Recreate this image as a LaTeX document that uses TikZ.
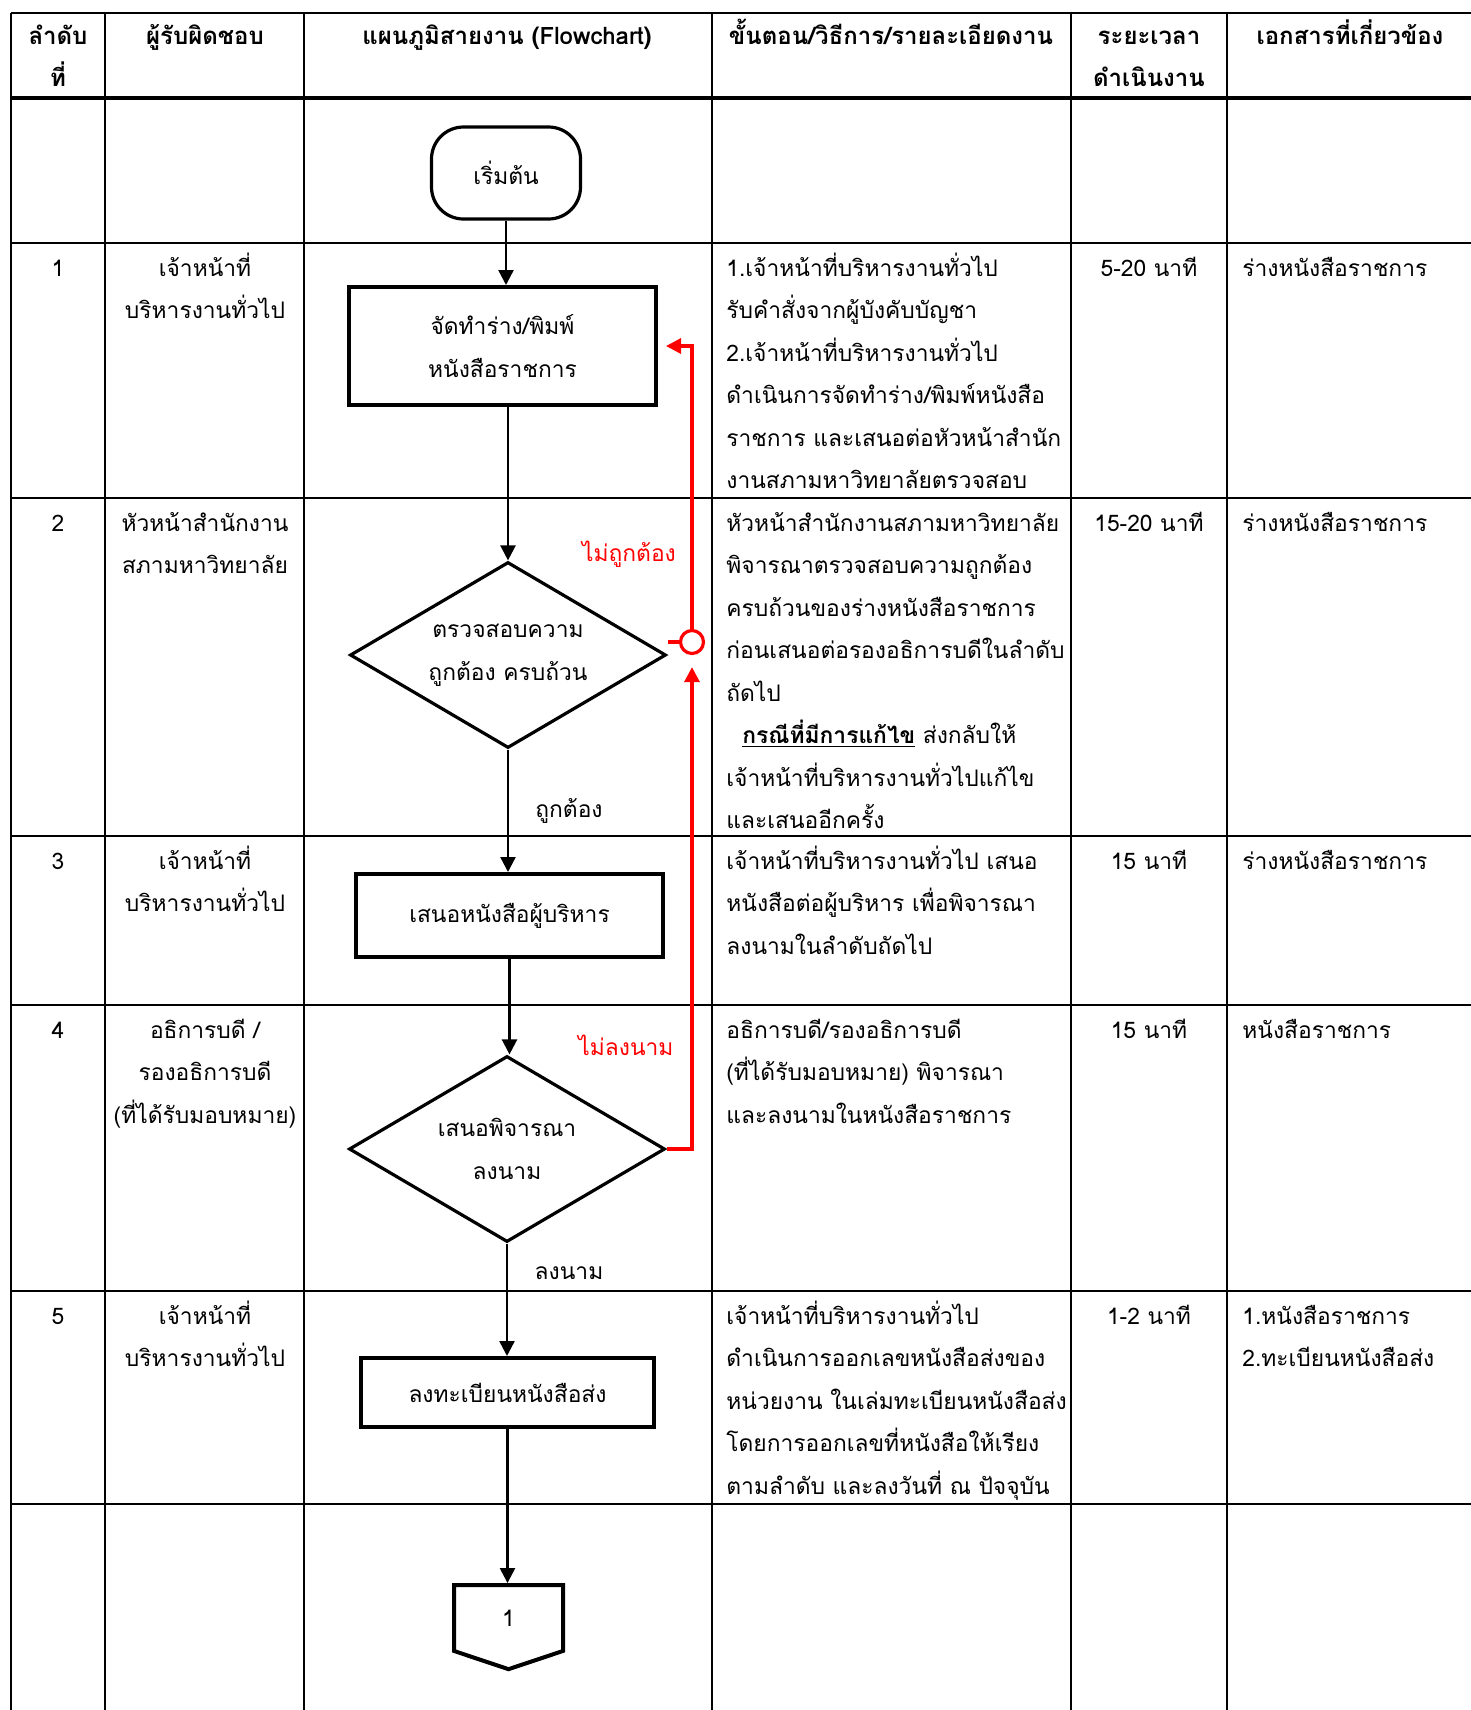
\documentclass[tikz,border=0pt]{standalone}
\usepackage{fontspec}
\setmainfont[Script=Thai]{Loma}
\usetikzlibrary{positioning,arrows.meta,shapes.geometric,shapes.symbols}
\tikzset{
	>={Triangle[length=7.5pt,width=7.5pt]},
	txt/.style={font=\fontsize{11.4}{21.25}\selectfont, inner sep=0pt},
	rowline/.style={line width=1pt},
	colline/.style={line width=1.4pt},
	headline/.style={line width=1.8pt},
	headtext/.style={txt, font=\fontsize{12}{21.25}\selectfont\bfseries, anchor=base, align=center, text width=170pt},
	celltext/.style={txt, anchor=base west, align=left, text width=200pt},
	midtext/.style={txt, anchor=base, align=center, text width=95pt},
	startbox/.style={
		rectangle,
		rounded corners=16pt,
		draw=black, line width=1.6pt,
		minimum width=74.5pt,
		minimum height=46pt,
		txt},
	procbox/.style={
		rectangle,
		draw=black, line width=2pt,
		txt, align=center},
	checkbox/.style={
		diamond,
		draw=black, line width=1.6pt,
		minimum width=158pt,
		minimum height=93pt,
		aspect=1.7,
		txt, align=center},
	connbox/.style={
		signal, signal to=south, signal pointer angle=143,
		draw=black, line width=2pt,
		minimum width=54.5pt,
		minimum height=34pt,
		txt},
	flow/.style={draw, line width=1.2pt, ->},
	backflow/.style={draw=red, line width=1.6pt, ->},
	redlabel/.style={txt, text=red},
}

\begin{document}
\begin{tikzpicture}[x=0.5pt,y=-0.5pt]
\useasboundingbox (0,0) rectangle (1471,1710);

% table grid
\draw[rowline] (11,13) -- (1471,13);
\draw[headline] (11,98) -- (1471,98);
\foreach \yy in {243,498,836,1005,1291,1504}
	\draw[rowline] (11,\yy) -- (1471,\yy);
\foreach \xx in {11,105,304,712,1071,1227}
	\draw[colline] (\xx,13) -- (\xx,1710);

% header
\node[headtext] (hno) at (58,44) {ลำดับ\\ที่};
\node[headtext] (hresp) at (205,44) {ผู้รับผิดชอบ};
\node[headtext] (hflow) at (507,44) {แผนภูมิสายงาน (Flowchart)};
\node[headtext] (hstep) at (891,44) {ขั้นตอน/วิธีการ/รายละเอียดงาน};
\node[headtext] (htime) at (1149,44) {ระยะเวลา\\ดำเนินงาน};
\node[headtext] (hdoc) at (1350,44) {เอกสารที่เกี่ยวข้อง};

% row 1
\node[midtext] (no1) at (58,276) {1};
\node[midtext] (resp1) at (205,276) {เจ้าหน้าที่\\บริหารงานทั่วไป};
\node[celltext] (step1) at (726,276) {1.เจ้าหน้าที่บริหารงานทั่วไป\\รับคำสั่งจากผู้บังคับบัญชา\\2.เจ้าหน้าที่บริหารงานทั่วไป\\ดำเนินการจัดทำร่าง/พิมพ์หนังสือ\\ราชการ และเสนอต่อหัวหน้าสำนัก\\งานสภามหาวิทยาลัยตรวจสอบ};
\node[midtext] (time1) at (1149,276) {5-20 นาที};
\node[celltext] (doc1) at (1242,276) {ร่างหนังสือราชการ};

% row 2
\node[midtext] (no2) at (58,531) {2};
\node[midtext] (resp2) at (205,531) {หัวหน้าสำนักงาน\\สภามหาวิทยาลัย};
\node[celltext] (step2) at (726,531) {หัวหน้าสำนักงานสภามหาวิทยาลัย\\พิจารณาตรวจสอบความถูกต้อง\\ครบถ้วนของร่างหนังสือราชการ\\ก่อนเสนอต่อรองอธิการบดีในลำดับ\\ถัดไป\\\hspace*{8pt}\underline{\textbf{กรณีที่มีการแก้ไข}} ส่งกลับให้\\เจ้าหน้าที่บริหารงานทั่วไปแก้ไข\\และเสนออีกครั้ง};
\node[midtext] (time2) at (1149,531) {15-20 นาที};
\node[celltext] (doc2) at (1242,531) {ร่างหนังสือราชการ};

% row 3
\node[midtext] (no3) at (58,869) {3};
\node[midtext] (resp3) at (205,869) {เจ้าหน้าที่\\บริหารงานทั่วไป};
\node[celltext] (step3) at (726,869) {เจ้าหน้าที่บริหารงานทั่วไป เสนอ\\หนังสือต่อผู้บริหาร เพื่อพิจารณา\\ลงนามในลำดับถัดไป};
\node[midtext] (time3) at (1149,869) {15 นาที};
\node[celltext] (doc3) at (1242,869) {ร่างหนังสือราชการ};

% row 4
\node[midtext] (no4) at (58,1038) {4};
\node[midtext] (resp4) at (205,1038) {อธิการบดี /\\รองอธิการบดี\\(ที่ได้รับมอบหมาย)};
\node[celltext] (step4) at (726,1038) {อธิการบดี/รองอธิการบดี\\(ที่ได้รับมอบหมาย) พิจารณา\\และลงนามในหนังสือราชการ};
\node[midtext] (time4) at (1149,1038) {15 นาที};
\node[celltext] (doc4) at (1242,1038) {หนังสือราชการ};

% row 5
\node[midtext] (no5) at (58,1324) {5};
\node[midtext] (resp5) at (205,1324) {เจ้าหน้าที่\\บริหารงานทั่วไป};
\node[celltext] (step5) at (726,1324) {เจ้าหน้าที่บริหารงานทั่วไป\\ดำเนินการออกเลขหนังสือส่งของ\\หน่วยงาน ในเล่มทะเบียนหนังสือส่ง\\โดยการออกเลขที่หนังสือให้เรียง\\ตามลำดับ และลงวันที่ ณ ปัจจุบัน};
\node[midtext] (time5) at (1149,1324) {1-2 นาที};
\node[celltext] (doc5) at (1242,1324) {1.หนังสือราชการ\\2.ทะเบียนหนังสือส่ง};

% flowchart
\node[startbox] (start) at (506,173) {เริ่มต้น};
\node[procbox, minimum width=153.5pt, minimum height=59pt] (draft) at (502.5,346) {จัดทำร่าง/พิมพ์\\หนังสือราชการ};
\node[checkbox] (check) at (508,655) {ตรวจสอบความ\\ถูกต้อง ครบถ้วน};
\node[procbox, minimum width=153.5pt, minimum height=41.5pt] (present) at (509.5,915.5) {เสนอหนังสือผู้บริหาร};
\node[checkbox] (sign) at (507,1149) {เสนอพิจารณา\\ลงนาม};
\node[procbox, minimum width=146.5pt, minimum height=34.5pt] (register) at (507.5,1392.5) {ลงทะเบียนหนังสือส่ง};
\node[connbox] (conn) at (508.5,1618) {1};
\node[circle, draw=red, line width=1.6pt, minimum size=11.5pt, inner sep=0pt] (merge) at (692,642) {};

\node[txt] (lbok) at (569,811) {ถูกต้อง};
\node[txt] (lbsign) at (569,1273) {ลงนาม};
\node[redlabel] (lbnotok) at (629,554) {ไม่ถูกต้อง};
\node[redlabel] (lbnosign) at (626,1045) {ไม่ลงนาม};

\draw[flow] (start.south) -- (start.south |- draft.north);
\draw[flow] (draft.south -| check.north) -- (check.north);
\draw[flow] (check.south) -- (check.south |- present.north);
\draw[flow] (present.south) -- (present.south |- sign.north);
\draw[flow] (sign.south) -- (sign.south |- register.north);
\draw[flow] (register.south) -- (register.south |- conn.north);

\draw[draw=red, line width=1.6pt] (merge.west) -- (merge.west -| check.east);
\draw[backflow, shorten >=4pt] (merge.north) |- (draft.east);
\draw[backflow, shorten >=6pt] (sign.east) -| (merge.south);

\end{tikzpicture}
\end{document}
